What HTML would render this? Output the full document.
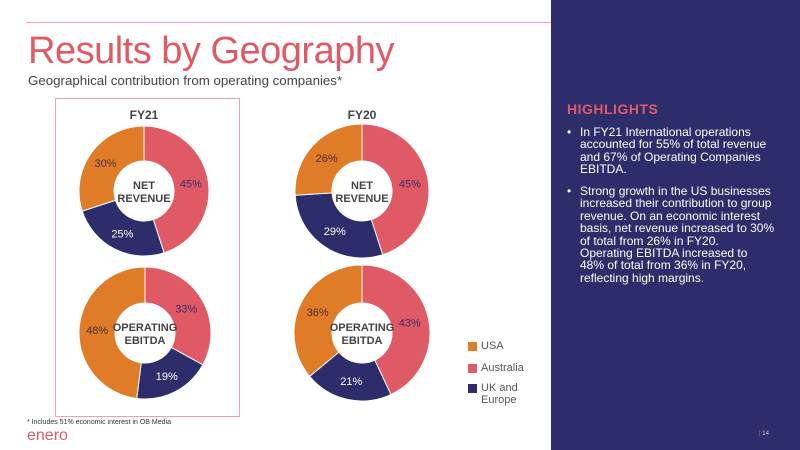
<!DOCTYPE html>
<html><head><meta charset="utf-8"><style>
body{margin:0;width:800px;height:450px;position:relative;background:#fff;font-family:"Liberation Sans",sans-serif;overflow:hidden}
.panel{position:absolute;left:551px;top:0;width:249px;height:450px;background:#2e2d6b}
.hl{position:absolute;left:567px;top:101px;color:#e05a66;font-weight:bold;font-size:14px;letter-spacing:0.5px}
.bul{position:absolute;left:580px;color:#fff;font-size:12px;line-height:12.4px;white-space:nowrap}
.bul:before{content:"•";position:absolute;left:-13px}
</style></head><body>
<div style="position:absolute;left:26px;top:22px;width:525px;height:1px;background:#f0a0a8"></div>
<div style="position:absolute;left:28px;top:30px;font-size:38px;color:#e05a66;letter-spacing:-0.5px">Results by Geography</div>
<div style="position:absolute;left:28px;top:73px;font-size:13.3px;color:#444">Geographical contribution from operating companies*</div>
<div style="position:absolute;left:55px;top:98px;width:183px;height:317px;border:1px solid #f0a0a8"></div>
<svg id="s" width="800" height="450" style="position:absolute;left:0;top:0" font-family="Liberation Sans, sans-serif"></svg>
<div class="panel"></div>
<div class="hl">HIGHLIGHTS</div>
<div class="bul" style="top:126px">In FY21 International operations<br>accounted for 55% of total revenue<br>and 67% of Operating Companies<br>EBITDA.</div>
<div class="bul" style="top:185px">Strong growth in the US businesses<br>increased their contribution to group<br>revenue. On an economic interest<br>basis, net revenue increased to 30%<br>of total from 26% in FY20.<br>Operating EBITDA increased to<br>48% of total from 36% in FY20,<br>reflecting high margins.</div>
<div style="position:absolute;left:468px;top:342px;width:9px;height:9px;background:#e07b27"></div>
<div style="position:absolute;left:468px;top:364px;width:9px;height:9px;background:#e05a66"></div>
<div style="position:absolute;left:468px;top:384px;width:9px;height:9px;background:#2e2d6b"></div>
<div style="position:absolute;left:481px;top:340px;font-size:11px;color:#555">USA</div>
<div style="position:absolute;left:481px;top:362px;font-size:11px;color:#555">Australia</div>
<div style="position:absolute;left:481px;top:382px;font-size:11px;color:#555;line-height:12px">UK and<br>Europe</div>
<div style="position:absolute;left:27px;top:419px;font-size:7px;color:#333">* Includes 51% economic interest in OB Media</div>
<div style="position:absolute;left:27px;top:427px;font-size:16px;color:#e05a66">enero</div>
<div style="position:absolute;left:759px;top:431px;font-size:6px;color:#ccc"><span style="color:#e05a66">|</span> 14</div>
<script>
var s=document.getElementById('s'),h='';
function donut(cx,cy,r,ri,vals,l1,l2){
 var cols=['#e05a66','#2e2d6b','#e07b27'],tc=['#3a2d6b','#fff','#4a3030'],a=0,t=vals.reduce((x,y)=>x+y);
 vals.forEach(function(v,i){
  var a0=a,a1=a+v/t*2*Math.PI;a=a1;
  var p=function(R,an){return (cx+R*Math.sin(an)).toFixed(2)+','+(cy-R*Math.cos(an)).toFixed(2)};
  var lg=(a1-a0)>Math.PI?1:0;
  h+='<path d="M'+p(r,a0)+'A'+r+','+r+' 0 '+lg+' 1 '+p(r,a1)+'L'+p(ri,a1)+'A'+ri+','+ri+' 0 '+lg+' 0 '+p(ri,a0)+'Z" fill="'+cols[i]+'" stroke="#fff" stroke-width="1"/>';
  var m=(a0+a1)/2,R=(r+ri)/2;
  h+='<text x="'+(cx+R*Math.sin(m))+'" y="'+(cy-R*Math.cos(m)+4)+'" text-anchor="middle" font-size="11" fill="'+tc[i]+'">'+v+'%</text>';
 });
 h+='<text x="'+cx+'" y="'+(cy-2)+'" text-anchor="middle" font-size="11" font-weight="bold" fill="#444">'+l1+'</text>';
 h+='<text x="'+cx+'" y="'+(cy+11)+'" text-anchor="middle" font-size="11" font-weight="bold" fill="#444">'+l2+'</text>';
}
h+='<text x="144" y="119" text-anchor="middle" font-size="12" font-weight="bold" fill="#444">FY21</text>';
h+='<text x="362" y="119" text-anchor="middle" font-size="12" font-weight="bold" fill="#444">FY20</text>';
donut(144,191,65,30,[45,25,30],'NET','REVENUE');
donut(362,191,67,30,[45,29,26],'NET','REVENUE');
donut(145,333,66,30,[33,19,48],'OPERATING','EBITDA');
donut(362,333,68,30,[43,21,36],'OPERATING','EBITDA');
s.innerHTML=h;
</script>
</body></html>
